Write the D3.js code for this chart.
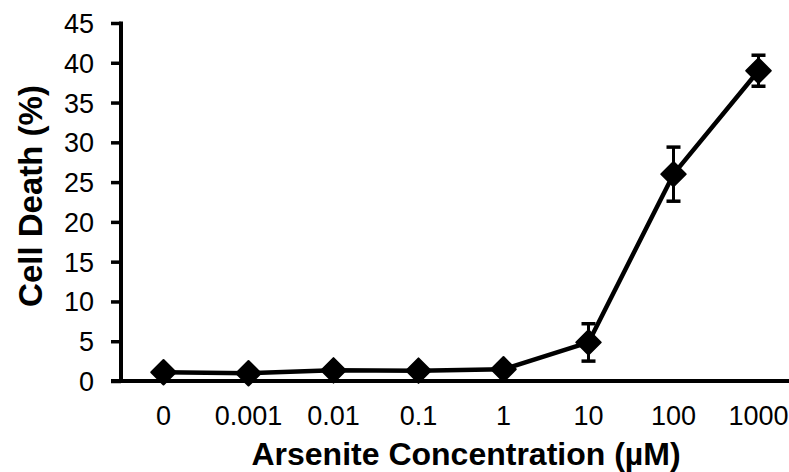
<!DOCTYPE html>
<html><head><meta charset="utf-8">
<script src="https://cdn.jsdelivr.net/npm/d3@7"></script>
<style>body{margin:0;background:#fff}svg{display:block}text{font-family:"Liberation Sans",Arial,sans-serif;fill:#000}</style>
</head><body><svg id="c" width="789" height="472"></svg>
<script>
const categories = ["0","0.001","0.01","0.1","1","10","100","1000"];
const values = [1.1, 0.97, 1.34, 1.3, 1.47, 4.85, 26.0, 39.0];
const errors = [0, 0, 0, 0, 0, 2.35, 3.4, 1.95];
const yTicks = [0,5,10,15,20,25,30,35,40,45];
const data = categories.map((c,i)=>({c, v: values[i], e: errors[i]}));

const svg = d3.select("#c");
const x = d3.scaleBand().domain(categories).range([121, 801]).paddingInner(0).paddingOuter(0);
const y = d3.scaleLinear().domain([0,45]).range([381, 23]);
const cx = d => x(d.c) + x.bandwidth()/2;

// Y axis
const yAxis = svg.append("g").attr("transform","translate(121,0)")
  .call(d3.axisLeft(y).tickValues(yTicks).tickSize(10).tickSizeOuter(0));
yAxis.select(".domain").attr("stroke","#000").attr("stroke-width",4).attr("d","M0,"+(y(45)-1.5)+"V"+(y(0)+2));
yAxis.selectAll(".tick line").attr("stroke","#000").attr("stroke-width",3.5);
yAxis.selectAll(".tick text").attr("font-size",27).attr("fill","#000").attr("x",-27).attr("dy","0.35em");

// X axis
const xAxis = svg.append("g").attr("transform","translate(0,"+y(0)+")")
  .call(d3.axisBottom(x).tickSize(0).tickSizeOuter(0));
xAxis.select(".domain").attr("stroke","#000").attr("stroke-width",4).attr("d","M111,0H801");
xAxis.selectAll(".tick text").attr("font-size",27).attr("fill","#000").attr("y",44).attr("dy",0);

// Line
svg.append("path").datum(data)
  .attr("fill","none").attr("stroke","#000").attr("stroke-width",4.5).attr("stroke-linejoin","round")
  .attr("d", d3.line().x(cx).y(d=>y(d.v)));

// Error bars
const eb = svg.append("g").selectAll("g").data(data.filter(d=>d.e>0)).join("g");
eb.append("line").attr("x1",cx).attr("x2",cx).attr("y1",d=>y(d.v+d.e)).attr("y2",d=>y(d.v-d.e))
  .attr("stroke","#000").attr("stroke-width",3);
eb.append("line").attr("x1",d=>cx(d)-7).attr("x2",d=>cx(d)+7).attr("y1",d=>y(d.v+d.e)).attr("y2",d=>y(d.v+d.e))
  .attr("stroke","#000").attr("stroke-width",3.5);
eb.append("line").attr("x1",d=>cx(d)-7).attr("x2",d=>cx(d)+7).attr("y1",d=>y(d.v-d.e)).attr("y2",d=>y(d.v-d.e))
  .attr("stroke","#000").attr("stroke-width",3.5);

// Markers
svg.append("g").selectAll("path").data(data).join("path")
  .attr("d", d3.symbol(d3.symbolSquare, 300)())
  .attr("transform", d=>"translate("+cx(d)+","+y(d.v)+") rotate(45)")
  .attr("fill","#000").attr("stroke","#000").attr("stroke-width",2).attr("stroke-linejoin","round");

// Titles
svg.append("text").attr("x",466).attr("y",465).attr("text-anchor","middle")
  .attr("font-size",32).attr("font-weight","bold").text("Arsenite Concentration (µM)");
svg.append("text").attr("transform","translate(42,196) rotate(-90)").attr("text-anchor","middle")
  .attr("font-size",33).attr("font-weight","bold").text("Cell Death (%)");
</script></body></html>
